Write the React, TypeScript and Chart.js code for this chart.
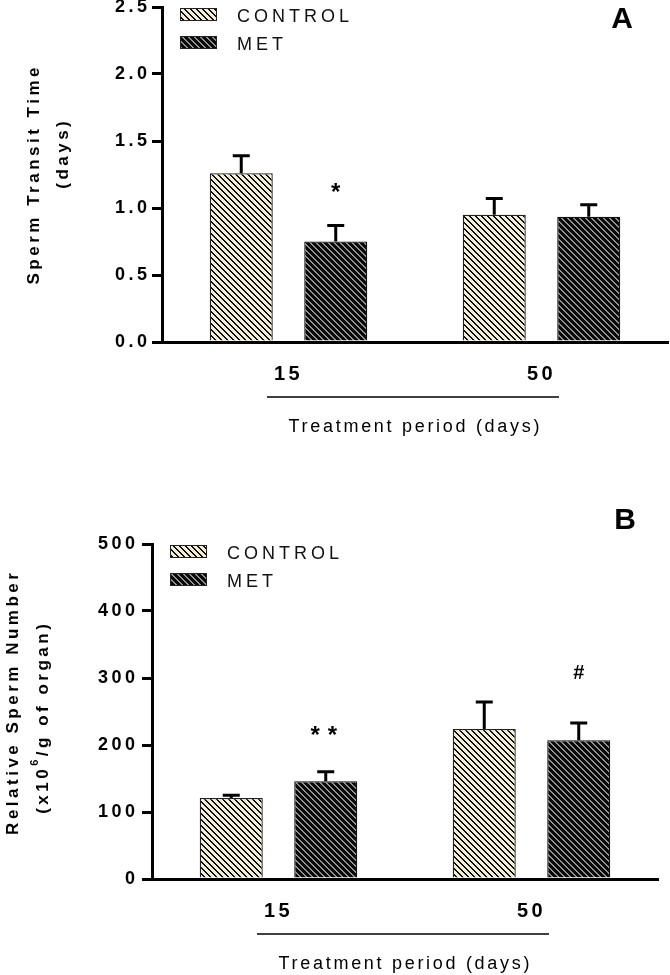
import React, { useEffect, useRef } from 'react';
import { Chart, registerables } from 'chart.js';

Chart.register(...registerables);

const FONT = "'Liberation Sans', Arial, Helvetica, sans-serif";

// ---- shared categories / series ----
const periods = ['15', '50'];
const seriesNames = ['CONTROL', 'MET'];

// ---- Panel A: Sperm transit time (days) ----
const transitControl = [1.26, 0.95];
const transitControlErr = [0.13, 0.12];
const transitMet = [0.75, 0.935];
const transitMetErr = [0.12, 0.09];
const transitMarks = ['*', ''];
const transitMarkLevel = [1.15, 0];
const transitTicks = [0, 0.5, 1.0, 1.5, 2.0, 2.5];

// ---- Panel B: Relative sperm number (x10^6/g of organ) ----
const spermControl = [121, 224];
const spermControlErr = [4, 40];
const spermMet = [146, 207];
const spermMetErr = [14, 26];
const spermMarks = ['**', '#'];
const spermMarkLevel = [221, 309];
const spermTicks = [0, 100, 200, 300, 400, 500];

type Piece = { t: string; sup?: boolean };

const panelA = {
  top: -13, height: 500, padTop: 20, padRight: 2, yAxisW: 162, xAxisH: 145,
  letter: 'A', letterDx: -46, letterDy: 13,
  yTitle1: [{ t: 'Sperm Transit Time' }] as Piece[], y1x: 34, y1dy: 169,
  yTitle2: [{ t: '(days)' }] as Piece[], y2x: 63, y2dy: 148,
  ticks: transitTicks, decimals: 1, yPad: 1.5,
  control: transitControl, controlErr: transitControlErr,
  met: transitMet, metErr: transitMetErr,
  marks: transitMarks, markLevel: transitMarkLevel,
};

const panelB = {
  top: 487, height: 488, padTop: 57, padRight: 12, yAxisW: 152, xAxisH: 96,
  letter: 'B', letterDx: -33, letterDy: -23,
  yTitle1: [{ t: 'Relative Sperm Number' }] as Piece[], y1x: 13, y1dy: 160,
  yTitle2: [{ t: '(x10' }, { t: '6', sup: true }, { t: '/g of organ)' }] as Piece[], y2x: 43, y2dy: 175,
  ticks: spermTicks, decimals: 0, yPad: 3.5,
  control: spermControl, controlErr: spermControlErr,
  met: spermMet, metErr: spermMetErr,
  marks: spermMarks, markLevel: spermMarkLevel,
};

function makePattern(bg: [number, number, number], line: [number, number, number], lineW: number, size: number) {
  const c = document.createElement('canvas');
  c.width = size;
  c.height = size;
  const g = c.getContext('2d')!;
  const img = g.createImageData(size, size);
  for (let y = 0; y < size; y++) {
    for (let x = 0; x < size; x++) {
      const d = (((x - y) % size) + size) % size;
      const col = d < lineW ? line : bg;
      const i = (y * size + x) * 4;
      img.data[i] = col[0];
      img.data[i + 1] = col[1];
      img.data[i + 2] = col[2];
      img.data[i + 3] = 255;
    }
  }
  g.putImageData(img, 0, 0);
  return g.createPattern(c, 'repeat')!;
}

function drawPieces(ctx: any, pieces: Piece[], cx: number, cy: number, size: number, weight: string, spacing: number) {
  const widths: number[] = [];
  let total = 0;
  pieces.forEach((p) => {
    const s = p.sup ? Math.round(size * 0.62) : size;
    ctx.font = `${weight} ${s}px ${FONT}`;
    ctx.letterSpacing = `${spacing}px`;
    const w = ctx.measureText(p.t).width;
    widths.push(w);
    total += w;
  });
  total -= spacing;
  let x = cx - total / 2;
  ctx.textAlign = 'left';
  ctx.textBaseline = 'middle';
  pieces.forEach((p, i) => {
    const s = p.sup ? Math.round(size * 0.62) : size;
    ctx.font = `${weight} ${s}px ${FONT}`;
    ctx.letterSpacing = `${spacing}px`;
    ctx.fillText(p.t, x, p.sup ? cy - size * 0.45 : cy);
    x += widths[i];
  });
}

function makeDeco(cfg: any) {
  return {
    id: 'deco',
    beforeDraw(chart: any) {
      chart.ctx.letterSpacing = '3.5px';
    },
    afterDatasetsDraw(chart: any) {
      const ctx = chart.ctx;
      const ys = chart.scales.y;
      const errs = [cfg.controlErr, cfg.metErr];
      ctx.save();
      ctx.strokeStyle = '#000';
      ctx.lineWidth = 3;
      chart.data.datasets.forEach((ds: any, di: number) => {
        const meta = chart.getDatasetMeta(di);
        meta.data.forEach((bar: any, i: number) => {
          const v = ds.data[i];
          const top = ys.getPixelForValue(v + errs[di][i]);
          ctx.beginPath();
          ctx.moveTo(bar.x, bar.y);
          ctx.lineTo(bar.x, top);
          ctx.moveTo(bar.x - 8.5, top);
          ctx.lineTo(bar.x + 8.5, top);
          ctx.stroke();
        });
      });
      ctx.restore();
    },
    afterDraw(chart: any) {
      const ctx = chart.ctx;
      const ca = chart.chartArea;
      const ys = chart.scales.y;
      const cx = (ca.left + ca.right) / 2;
      ctx.save();
      ctx.fillStyle = '#000';
      ctx.strokeStyle = '#000';

      // y-axis titles (rotated)
      ctx.save();
      ctx.translate(cfg.y1x, ca.top + cfg.y1dy);
      ctx.rotate(-Math.PI / 2);
      drawPieces(ctx, cfg.yTitle1, 0, 0, 17, 'bold', 3.5);
      ctx.restore();
      ctx.save();
      ctx.translate(cfg.y2x, ca.top + cfg.y2dy);
      ctx.rotate(-Math.PI / 2);
      drawPieces(ctx, cfg.yTitle2, 0, 0, 17, 'bold', 3.5);
      ctx.restore();

      // x-axis underline + title
      ctx.lineWidth = 1.5;
      ctx.beginPath();
      ctx.moveTo(cx - 2 - 146, ca.bottom + 55);
      ctx.lineTo(cx - 2 + 146, ca.bottom + 55);
      ctx.stroke();
      drawPieces(ctx, [{ t: 'Treatment period (days)' }], cx - 1, ca.bottom + 85, 18, 'normal', 2.7);

      // legend
      chart.data.datasets.forEach((ds: any, di: number) => {
        const lx = ca.left + 18;
        const ly = ca.top + 1 + di * 28;
        ctx.fillStyle = ds.backgroundColor;
        ctx.fillRect(lx, ly, 37, 13);
        ctx.lineWidth = 1;
        ctx.strokeStyle = '#222';
        ctx.strokeRect(lx + 0.5, ly + 0.5, 36, 12);
        ctx.fillStyle = '#111';
        ctx.font = `normal 18px ${FONT}`;
        ctx.letterSpacing = '4px';
        ctx.textAlign = 'left';
        ctx.textBaseline = 'middle';
        ctx.fillText(ds.label, ca.left + 75, ly + 9);
      });

      // significance marks above MET bars
      const metMeta = chart.getDatasetMeta(1);
      ctx.fillStyle = '#000';
      cfg.marks.forEach((m: string, i: number) => {
        if (!m) return;
        const bar: any = metMeta.data[i];
        ctx.font = `bold ${m === '#' ? 20 : 24}px ${FONT}`;
        ctx.letterSpacing = m === '**' ? '8px' : '0px';
        ctx.textAlign = 'center';
        ctx.textBaseline = 'alphabetic';
        const mt = ctx.measureText(m);
        const yc = ys.getPixelForValue(cfg.markLevel[i]);
        const off = (mt.actualBoundingBoxAscent - mt.actualBoundingBoxDescent) / 2;
        ctx.fillText(m, bar.x + (m === '**' ? 2 : 0), yc + off);
      });

      // panel letter
      ctx.font = `bold 30px ${FONT}`;
      ctx.letterSpacing = '0px';
      ctx.textAlign = 'center';
      ctx.textBaseline = 'middle';
      ctx.fillText(cfg.letter, ca.right + cfg.letterDx, ca.top + cfg.letterDy);

      ctx.restore();
      ctx.letterSpacing = '0px';
    },
  };
}

function Panel({ cfg }: { cfg: any }) {
  const ref = useRef<HTMLCanvasElement>(null);
  useEffect(() => {
    const canvas = ref.current!;
    const patC = makePattern([241, 237, 214], [14, 14, 14], 2, 6);
    const patM = makePattern([8, 8, 8], [145, 145, 145], 2, 6);
    const chart = new Chart(canvas, {
      type: 'bar',
      data: {
        labels: periods,
        datasets: [
          { label: seriesNames[0], data: cfg.control, backgroundColor: patC as any, borderColor: '#222', borderWidth: 1.3 },
          { label: seriesNames[1], data: cfg.met, backgroundColor: patM as any, borderColor: '#111', borderWidth: 1.3 },
        ],
      },
      options: {
        animation: false,
        responsive: false,
        maintainAspectRatio: false,
        devicePixelRatio: 1,
        layout: { padding: { top: cfg.padTop, right: cfg.padRight, left: 0, bottom: 0 } },
        datasets: { bar: { barPercentage: 0.667, categoryPercentage: 0.747 } },
        plugins: { legend: { display: false }, tooltip: { enabled: false } },
        scales: {
          x: {
            z: 1,
            grid: { display: true, drawOnChartArea: false, drawTicks: false },
            border: { display: true, color: '#000', width: 3 },
            ticks: { color: '#000', font: { family: FONT, size: 20, weight: 'bold' }, padding: 20 },
            afterFit: (s: any) => { s.height = cfg.xAxisH; },
          },
          y: {
            min: cfg.ticks[0],
            max: cfg.ticks[cfg.ticks.length - 1],
            afterBuildTicks: (s: any) => { s.ticks = cfg.ticks.map((v: number) => ({ value: v })); },
            grid: { display: true, drawOnChartArea: false, drawTicks: true, tickLength: 10, color: '#000', lineWidth: 3 },
            border: { display: true, color: '#000', width: 3 },
            ticks: {
              color: '#000',
              font: { family: FONT, size: 18, weight: 'bold' },
              padding: cfg.yPad,
              callback: (v: any) => Number(v).toFixed(cfg.decimals),
            },
            afterFit: (s: any) => { s.width = cfg.yAxisW; },
          },
        },
      } as any,
      plugins: [makeDeco(cfg)],
    });
    return () => chart.destroy();
  }, []);
  return (
    <canvas
      ref={ref}
      width={670}
      height={cfg.height}
      style={{ position: 'absolute', left: 0, top: cfg.top, width: 670, height: cfg.height }}
    />
  );
}

export default function App() {
  return (
    <div style={{ position: 'absolute', left: 0, top: 0, width: 670, height: 975, overflow: 'hidden', background: '#fff' }}>
      <Panel cfg={panelA} />
      <Panel cfg={panelB} />
    </div>
  );
}
